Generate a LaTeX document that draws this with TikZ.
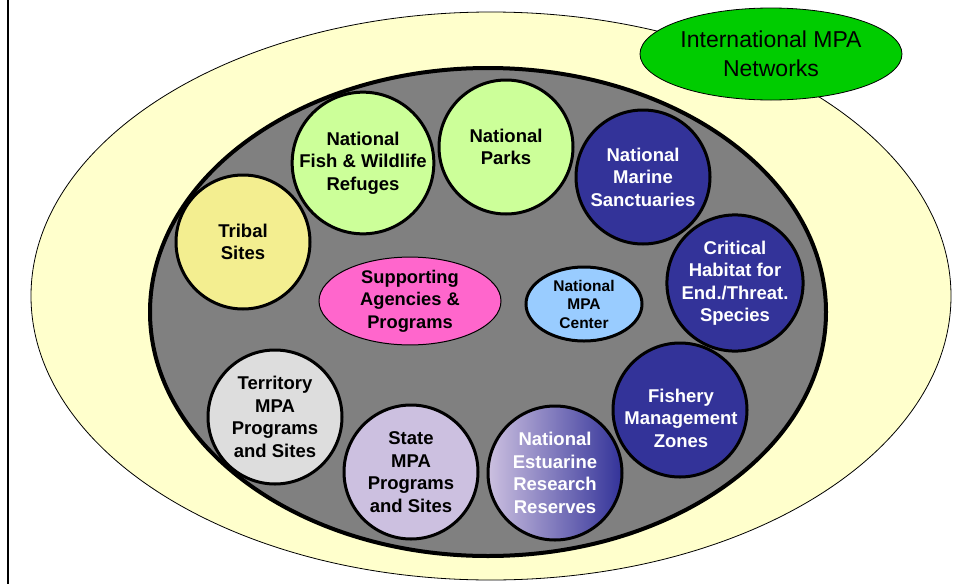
\documentclass[tikz,border=0pt]{standalone}
\usepackage{fontspec}
\setmainfont{Liberation Sans}
\usetikzlibrary{shapes.geometric}
\definecolor{outerY}{HTML}{FFFFCC}
\definecolor{innerG}{HTML}{808080}
\definecolor{dblue}{HTML}{333399}
\definecolor{lgreen}{HTML}{CCFF99}
\definecolor{tribY}{HTML}{F3EE90}
\definecolor{lav}{HTML}{CCC0E0}
\definecolor{lgray}{HTML}{DDDDDD}
\definecolor{pinkc}{HTML}{FF66CC}
\definecolor{lblue}{HTML}{99CCFF}
\definecolor{intgreen}{HTML}{00CC00}
\tikzset{
  site/.style={circle, draw=black, line width=3pt, minimum size=134pt, inner sep=0pt,
    align=center, font=\fontsize{18.5}{22.5}\selectfont\bfseries},
  lightsite/.style={site, text=black},
  darksite/.style={site, fill=dblue, text=white},
  sitetext/.style={align=center, inner sep=0pt, font=\fontsize{18.5}{22.5}\selectfont\bfseries},
}
\begin{document}
\begin{tikzpicture}[x=1pt,y=-1pt]
\useasboundingbox (0,0) rectangle (954,584);
\draw[line width=2.5pt] (8,0) -- (8,584);
% outer ellipse
\node (outer) [ellipse, draw=black, line width=0.8pt, fill=outerY, minimum width=920pt, minimum height=568pt, inner sep=0pt] at (491,296) {};
% gray ellipse
\node (inner) [ellipse, draw=black, line width=4pt, fill=innerG, minimum width=676pt, minimum height=488pt, inner sep=0pt] at (488,312) {};
% international
\node (intl) [ellipse, draw=black, line width=0.8pt, fill=intgreen, minimum width=262pt, minimum height=92pt, inner sep=0pt, align=center, font=\fontsize{23}{29}\selectfont] at (771,54) {International MPA\\Networks};
% sites
\node (tribal) [lightsite, fill=tribY] at (243,242) {Tribal\\Sites};
\node (fws) [lightsite, fill=lgreen] at (363,163) {National\\Fish \& Wildlife\\Refuges};
\node (parks) [lightsite, fill=lgreen] at (506,147) {National\\Parks};
\node (marine) [darksite] at (643,177) {National\\Marine\\Sanctuaries};
\node (crit) [darksite, minimum size=132pt] at (735,283) {Critical\\Habitat for\\End./Threat.\\Species};
\node (fish) [darksite] at (680,410) {};
\node (fishtxt) [sitetext, text=white] at (681,418) {Fishery\\Management\\Zones};
\node (nerr) [site, left color=lav, right color=dblue, text=white] at (555,473) {National\\Estuarine\\Research\\Reserves};
\node (state) [lightsite, fill=lav] at (411,472) {State\\MPA\\Programs\\and Sites};
\node (terr) [lightsite, fill=lgray] at (275,417) {Territory\\MPA\\Programs\\and Sites};
% center ellipses
\node (supp) [ellipse, draw=black, line width=1pt, fill=pinkc, minimum width=182pt, minimum height=86pt, inner sep=0pt, align=center, font=\fontsize{18.3}{22.5}\selectfont\bfseries] at (410,301) {Supporting\\Agencies \&\\Programs};
\node (center) [ellipse, draw=black, line width=3pt, fill=lblue, minimum width=116pt, minimum height=74pt, inner sep=0pt, align=center, font=\fontsize{15.5}{18.5}\selectfont\bfseries] at (584,304) {National\\MPA\\Center};
\end{tikzpicture}
\end{document}
